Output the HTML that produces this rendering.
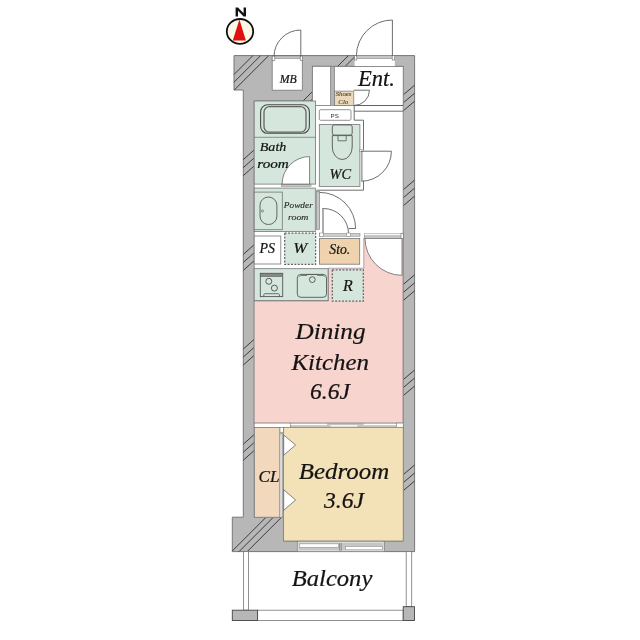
<!DOCTYPE html>
<html><head><meta charset="utf-8"><style>
html,body{margin:0;padding:0;background:#fff;width:640px;height:640px;overflow:hidden}
svg{display:block;will-change:transform}
.t{font-family:"Liberation Serif",serif;font-style:italic;fill:#141414;stroke:#141414;stroke-width:0.22}
.s{fill:#2e2e2e;stroke:#2e2e2e;stroke-width:0.15}
.sh{fill:#4a4234;stroke:#4a4234;stroke-width:0.1}
.ln{fill:none;stroke:#5e5e5e;stroke-width:0.9}
.ht{stroke:#3c3c3c;stroke-width:1;fill:none}
.g{fill:#d5e7dd;stroke:#767676;stroke-width:0.8}
.eq{fill:#d5e7dd;stroke:#555;stroke-width:0.9}
</style></head><body>
<svg width="640" height="640" viewBox="0 0 640 640">
<!-- outer walls -->
<path d="M234,55.6H414.6V551.6H232.3V517.2H243.3V90H234Z" fill="#b7b7b7" stroke="#777" stroke-width="1"/>
<!-- hatches -->
<path class="ht" d="M234,74.5L252.9,55.6M234,82.2L260.6,55.6M234.3,90L268.7,55.6
M303,101L348.4,55.6M310.5,101L355.9,55.6
M232.3,551L266.1,517.2M239,551.6L273.4,517.2M247.2,551.6L281.6,517.2"/>
<g class="ht">
<path d="M243.3,159.6L254.2,149.9M243.3,167.6L254.2,157.9M243.3,175.6L254.2,165.9"/>
<path d="M243.3,254.4L254.2,244.7M243.3,262.4L254.2,252.7M243.3,270.4L254.2,260.7"/>
<path d="M243.3,349L254.2,339.3M243.3,357L254.2,347.3M243.3,365L254.2,355.3"/>
<path d="M243.3,444.2L254.2,434.5M243.3,452.2L254.2,442.5M243.3,460.2L254.2,450.5"/>
<path d="M403.2,94.9L414.6,85.2M403.2,102.9L414.6,93.2M403.2,110.9L414.6,101.2"/>
<path d="M403.2,189.8L414.6,180.1M403.2,197.8L414.6,188.1M403.2,205.8L414.6,196.1"/>
<path d="M403.2,284.5L414.6,274.8M403.2,292.5L414.6,282.8M403.2,300.5L414.6,290.8"/>
<path d="M403.2,379.7L414.6,370M403.2,387.7L414.6,378M403.2,395.7L414.6,386"/>
<path d="M403.2,474.7L414.6,465M403.2,482.7L414.6,473M403.2,490.7L414.6,481"/>
</g>

<!-- interior white base -->
<path d="M254.2,101H312.4V66.3H403.2V541H283.5V517.2H254.2Z" fill="#fff" stroke="#777" stroke-width="0.8"/>
<rect x="330.7" y="66.3" width="3.6" height="39.2" fill="#b7b7b7" stroke="#777" stroke-width="0.6"/>

<!-- MB -->
<rect x="272.2" y="56" width="30.1" height="34.2" fill="#fff" stroke="#777" stroke-width="0.8"/>
<rect x="274.8" y="56" width="25.4" height="2.6" fill="#c6c6c6" stroke="#777" stroke-width="0.5"/>
<rect x="272.2" y="56" width="2.6" height="4.3" fill="#fff" stroke="#666" stroke-width="0.6"/>
<rect x="300.2" y="56" width="2.4" height="4.3" fill="#fff" stroke="#666" stroke-width="0.6"/>
<path class="ln" d="M300.8,56.5V30A26.7,26.7 0 0 0 274,56.5"/>
<text class="t" x="279.8" y="82.8" font-size="11.7" textLength="17" lengthAdjust="spacingAndGlyphs">MB</text>

<!-- Entrance opening -->
<rect x="354.6" y="55.7" width="40.2" height="10.9" fill="#fff"/>
<rect x="356.8" y="55.7" width="35.4" height="2.8" fill="#c6c6c6" stroke="#777" stroke-width="0.5"/>
<rect x="354.6" y="55.7" width="2.2" height="4.3" fill="#fff" stroke="#666" stroke-width="0.6"/>
<rect x="392.2" y="55.7" width="2.5" height="4.3" fill="#fff" stroke="#666" stroke-width="0.6"/>
<path class="ln" d="M392.4,55.7V20A36,36 0 0 0 356.4,55.7"/>

<!-- shaft -->
<rect x="312.4" y="66.3" width="18.3" height="39.2" fill="#fff" stroke="#777" stroke-width="0.8"/>
<!-- Ent room -->
<rect x="334.3" y="66.6" width="68.9" height="38.9" fill="#fff" stroke="#777" stroke-width="0.8"/>
<text class="t" x="358" y="85.8" font-size="22.5" textLength="37" lengthAdjust="spacingAndGlyphs">Ent.</text>
<!-- shoes closet -->
<rect x="334.5" y="91.1" width="19.3" height="14.4" fill="#ecd8bb" stroke="#777" stroke-width="0.7"/>
<text class="t sh" x="335.8" y="96.3" font-size="6" fill="#4a4234" textLength="15.5" lengthAdjust="spacingAndGlyphs">Shoes</text>
<text class="t sh" x="338.3" y="104.1" font-size="6.2" fill="#4a4234" textLength="10" lengthAdjust="spacingAndGlyphs">Clo</text>
<path class="ln" d="M353.8,90.2H369.5A15.5,15.5 0 0 1 353.8,105.5"/>
<!-- corridor lines -->
<path class="ln" d="M354.2,105.5H403.2M354.2,111.2H403.2M354.2,105.5V120.2H363.5V149.8M363.5,181V190.2H316.4"/>

<!-- PS small -->
<rect x="319.3" y="109.7" width="31.7" height="10.6" rx="1.5" fill="#fff" stroke="#777" stroke-width="0.8"/>
<text x="330.6" y="117.6" font-family="Liberation Sans" font-size="6.2" fill="#333">PS</text>

<!-- Bath -->
<rect class="g" x="254.2" y="101" width="61.4" height="83.1"/>
<line x1="254.2" y1="137.3" x2="315.6" y2="137.3" stroke="#777" stroke-width="0.8"/>
<rect x="260.6" y="104.8" width="48.8" height="28.5" rx="7" fill="#d5e7dd" stroke="#4a4a4a" stroke-width="1.1"/>
<rect x="264" y="106.6" width="42" height="25.6" rx="5.5" fill="none" stroke="#646464" stroke-width="1.3"/>
<rect x="281.2" y="184.1" width="29.8" height="2.2" fill="#c6c6c6" stroke="#777" stroke-width="0.5"/>
<path d="M309.6,184.1V156.6A27.5,27.5 0 0 0 282.1,184.1Z" fill="#fff" stroke="#666" stroke-width="0.8"/>
<text class="t" x="259.8" y="150.8" font-size="12.7" textLength="26.5" lengthAdjust="spacingAndGlyphs">Bath</text>
<text class="t" x="257.3" y="167.7" font-size="12.7" textLength="31.5" lengthAdjust="spacingAndGlyphs">room</text>

<!-- WC -->
<rect class="g" x="319.3" y="124.6" width="40.6" height="61.8"/>
<rect class="eq" x="332.3" y="124.9" width="19.9" height="10.2" rx="2"/>
<path class="eq" d="M332.3,135.6H352.2V147A9.95,12.5 0 0 1 332.3,147Z"/>
<path d="M338,135.6V140.8H346.2V135.6" fill="none" stroke="#555" stroke-width="0.8"/>
<text class="t" x="329.6" y="178.7" font-size="13.8" textLength="21.5" lengthAdjust="spacingAndGlyphs">WC</text>
<rect x="359.7" y="149.8" width="3.8" height="1.7" fill="#fff" stroke="#777" stroke-width="0.5"/>
<path class="ln" d="M361,151.2H391.4A30,30 0 0 1 361.4,181.2M361.9,151.2V181.2"/>

<!-- Powder -->
<rect class="g" x="254.2" y="188.1" width="61.1" height="43.5"/>
<rect class="g" x="254.2" y="192.1" width="28.1" height="37.6"/>
<rect class="eq" x="260" y="197" width="16.9" height="27.5" rx="8.4"/>
<circle cx="262.4" cy="211" r="1.1" fill="none" stroke="#555" stroke-width="0.6"/>
<text class="t s" x="283.8" y="208.4" font-size="8.8" fill="#2a2a2a" textLength="29" lengthAdjust="spacingAndGlyphs">Powder</text>
<text class="t s" x="288" y="219.8" font-size="8.8" fill="#2a2a2a" textLength="20.5" lengthAdjust="spacingAndGlyphs">room</text>

<!-- powder door & sto door -->
<rect x="316.4" y="191.3" width="3.3" height="38.3" fill="#c6c6c6" stroke="#777" stroke-width="0.6"/>
<path class="ln" d="M319.6,192.4A36,36 0 0 1 355.6,228.5H348.7"/>
<rect x="322.3" y="208.5" width="1.3" height="25.5" fill="#fff" stroke="#777" stroke-width="0.6"/>
<path class="ln" d="M323.5,208.5A25,25 0 0 1 348.5,234"/>
<rect x="319.7" y="233.6" width="40.3" height="2.6" fill="#d0d0d0" stroke="#777" stroke-width="0.5"/>
<rect x="319.7" y="233" width="3.6" height="3.5" fill="#fff" stroke="#777" stroke-width="0.5"/>
<rect x="346.8" y="233" width="3.4" height="3.5" fill="#fff" stroke="#777" stroke-width="0.5"/>

<!-- PS -->
<rect x="254.2" y="236" width="26.6" height="28" fill="#fff" stroke="#777" stroke-width="0.8"/>
<text class="t" x="259.5" y="252.7" font-size="13.9" textLength="15.5" lengthAdjust="spacingAndGlyphs">PS</text>
<!-- W -->
<rect x="284.7" y="233" width="30.9" height="31.4" fill="#d5e7dd" stroke="#626262" stroke-width="1.25" stroke-dasharray="1.9 1.5"/>
<text class="t" x="293.2" y="252.7" font-size="13.9" textLength="14" lengthAdjust="spacingAndGlyphs">W</text>

<!-- Sto -->
<rect x="319.4" y="238.4" width="40.3" height="25.8" fill="#eed3ae" stroke="#777" stroke-width="0.8"/>
<text class="t" x="329.3" y="253.9" font-size="14.5" textLength="21" lengthAdjust="spacingAndGlyphs">Sto.</text>

<!-- DK -->
<path d="M254.2,301H328.4V268.2H363.8V238.3H402.9V423.1H254.2Z" fill="#f7d4ce" stroke="#777" stroke-width="0.6"/>
<path d="M365,238.3A37,37 0 0 0 402,275.3V238.3Z" fill="#fff" stroke="#666" stroke-width="0.8"/>
<rect x="364.3" y="233.7" width="38.6" height="4.6" fill="#c4c4c4" stroke="#777" stroke-width="0.5"/>
<rect x="364.3" y="233.7" width="38.6" height="1.2" fill="#fff"/>
<rect x="401" y="233.5" width="2.2" height="4.8" fill="#fff" stroke="#666" stroke-width="0.5"/>

<!-- Kitchen counter -->
<rect class="g" x="254.2" y="268.7" width="73.9" height="31.9"/>
<rect class="eq" x="260.3" y="273.3" width="22.4" height="23.3"/>
<rect x="260.3" y="273.3" width="22.4" height="3.3" fill="#888" stroke="#555" stroke-width="0.5"/>
<circle cx="268.8" cy="281.3" r="3" fill="none" stroke="#4e4e4e" stroke-width="0.9"/>
<circle cx="274.4" cy="288.1" r="3" fill="none" stroke="#4e4e4e" stroke-width="0.9"/>
<path d="M263.8,296.6V294.5L264.8,293.7H278.4L279.4,294.5V296.6" fill="none" stroke="#4e4e4e" stroke-width="0.8"/>
<rect class="eq" x="297.3" y="274.4" width="29.2" height="22.9" rx="3.5"/>
<path d="M299.5,276.8L300.8,275.4H306.9V274.5H317.5V275.4H323.2L324.5,276.8" fill="none" stroke="#555" stroke-width="0.8"/>
<circle cx="312.3" cy="279.6" r="2.9" fill="none" stroke="#4e4e4e" stroke-width="0.9"/>
<!-- R -->
<rect x="332.3" y="269.8" width="31" height="31.2" fill="#d5e7dd" stroke="#626262" stroke-width="1.25" stroke-dasharray="1.9 1.5"/>
<text class="t" x="343" y="290.6" font-size="16">R</text>

<text class="t" x="295.5" y="339.25" font-size="23.2" textLength="70" lengthAdjust="spacingAndGlyphs">Dining</text>
<text class="t" x="291.5" y="369.6" font-size="23.2" textLength="77.5" lengthAdjust="spacingAndGlyphs">Kitchen</text>
<text class="t" x="310" y="399.2" font-size="23.2" textLength="40" lengthAdjust="spacingAndGlyphs">6.6J</text>

<!-- DK/bedroom divider -->
<rect x="254.2" y="423.1" width="36.4" height="4.4" fill="#fff" stroke="#777" stroke-width="0.6"/>
<rect x="290.6" y="423.1" width="112.6" height="4.2" fill="#c4c4c4" stroke="#777" stroke-width="0.5"/>
<rect x="290.6" y="423.8" width="36.4" height="1.4" fill="#fff"/>
<rect x="330.5" y="425.2" width="26.8" height="1.4" fill="#fff"/>
<rect x="363.6" y="423.8" width="33" height="1.4" fill="#fff"/>
<rect x="396.7" y="423.1" width="6.5" height="4.2" fill="#fff" stroke="#777" stroke-width="0.5"/>

<!-- CL -->
<rect x="254.5" y="427.5" width="25.5" height="89.7" fill="#f2d8bd" stroke="#777" stroke-width="0.7"/>
<rect x="280" y="427.5" width="3.6" height="89.7" fill="#fff" stroke="#777" stroke-width="0.6"/>
<rect x="281.6" y="434.4" width="2.1" height="82.8" fill="#a9a9a9"/>
<rect x="280" y="431.9" width="3.6" height="2.5" fill="#aaa"/>
<text class="t" x="258.5" y="481.9" font-size="17.4" textLength="21" lengthAdjust="spacingAndGlyphs">CL</text>

<!-- Bedroom -->
<rect x="283.6" y="427.3" width="119.6" height="113.7" fill="#f3e1b7" stroke="#777" stroke-width="0.7"/>
<path d="M283.7,435L295.6,445L283.7,455.3Z" fill="#fff" stroke="#666" stroke-width="0.8"/>
<path d="M283.7,489.7L295.6,500L283.7,510.3Z" fill="#fff" stroke="#666" stroke-width="0.8"/>
<text class="t" x="298.7" y="479.2" font-size="23.2" textLength="90.5" lengthAdjust="spacingAndGlyphs">Bedroom</text>
<text class="t" x="324" y="508.1" font-size="23.2" textLength="40" lengthAdjust="spacingAndGlyphs">3.6J</text>

<!-- bottom window -->
<rect x="297.2" y="541.2" width="87.3" height="10.5" fill="#c6c6c6" stroke="#7a7a7a" stroke-width="0.6"/>
<path d="M298.4,542.4H383.3V550.6H298.4Z" fill="none" stroke="#e6e6e6" stroke-width="0.7"/>
<rect x="299.4" y="543.9" width="39" height="3.3" fill="#fff" stroke="#888" stroke-width="0.5"/>
<rect x="345.5" y="546.6" width="36.7" height="3.2" fill="#fff" stroke="#888" stroke-width="0.5"/>
<path d="M339.6,543V551M341.2,543V551" stroke="#666" stroke-width="0.6"/>
<!-- Balcony -->
<rect x="243.6" y="551.6" width="4.9" height="58.6" fill="#fff" stroke="#777" stroke-width="0.8"/>
<rect x="406.2" y="551.6" width="5.5" height="55.1" fill="#fff" stroke="#777" stroke-width="0.8"/>
<rect x="257.6" y="610.2" width="145.6" height="10.3" fill="#fff" stroke="#777" stroke-width="0.8"/>
<rect x="232.3" y="610.2" width="25.3" height="10.3" fill="#b7b7b7" stroke="#444" stroke-width="0.9"/>
<rect x="403.2" y="606.7" width="11.3" height="13.8" fill="#b7b7b7" stroke="#444" stroke-width="0.9"/>
<text class="t" x="291.8" y="586.2" font-size="23.2" textLength="80.5" lengthAdjust="spacingAndGlyphs">Balcony</text>

<!-- compass -->
<ellipse cx="240" cy="31.4" rx="13.2" ry="12.4" fill="#fdf7e6" stroke="#111" stroke-width="1.8"/>
<path d="M239.4,19.5L245.9,40.6H232.8Z" fill="#e01010"/>
<path d="M235.6,16.4V7.6H238L243.6,13.3V7.6H246V16.4H243.6L238,10.7V16.4Z" fill="#111"/>
</svg>
</body></html>
